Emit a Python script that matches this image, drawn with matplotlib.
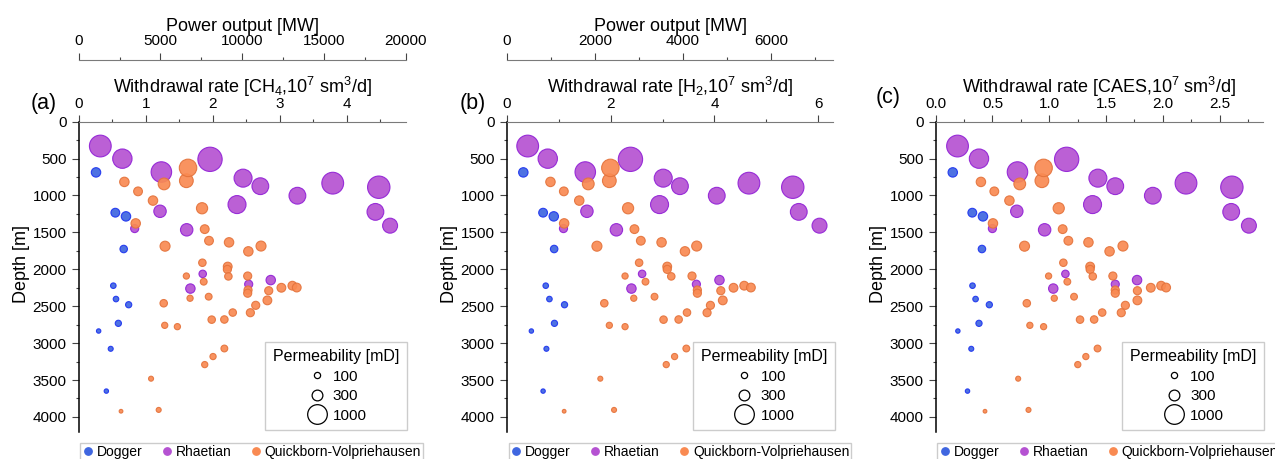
import matplotlib.pyplot as plt
from matplotlib.ticker import MultipleLocator
from matplotlib.lines import Line2D

plt.rcParams['font.family'] = 'Liberation Sans'
plt.rcParams['mathtext.default'] = 'regular'

# --- Dogger ---
dogger_depth = [687, 1233, 1283, 1725, 2222, 2403, 2480, 2732, 2836, 3077, 3650]
dogger_perm = [230, 200, 230, 145, 80, 80, 100, 100, 50, 65, 50]
dogger_ch4 = [0.259, 0.547, 0.706, 0.672, 0.517, 0.557, 0.746, 0.592, 0.298, 0.478, 0.413]
dogger_h2 = [0.316, 0.697, 0.903, 0.910, 0.748, 0.819, 1.110, 0.916, 0.471, 0.761, 0.697]
dogger_caes = [0.150, 0.322, 0.416, 0.407, 0.324, 0.351, 0.472, 0.381, 0.195, 0.313, 0.280]

# --- Rhaetian ---
rhaet_depth = [330, 501, 682, 510, 765, 874, 1123, 1003, 833, 888, 1222, 1409,
               1214, 1448, 1465, 2062, 2261, 2202, 2146]
rhaet_perm = [1230, 970, 1090, 1530, 840, 730, 840, 730, 1230, 1300, 730, 580,
              400, 170, 400, 145, 230, 170, 230]
rhaet_ch4 = [0.323, 0.652, 1.234, 1.960, 2.453, 2.711, 2.363, 3.264, 3.791, 4.478, 4.428, 4.647,
             1.214, 0.836, 1.612, 1.851, 1.667, 2.537, 2.866]
rhaet_h2 = [0.400, 0.787, 1.510, 2.381, 3.013, 3.335, 2.942, 4.045, 4.665, 5.510, 5.626, 6.026,
            1.542, 1.090, 2.110, 2.606, 2.400, 3.652, 4.097]
rhaet_caes = [0.192, 0.381, 0.720, 1.153, 1.428, 1.581, 1.381, 1.912, 2.204, 2.608, 2.602, 2.758,
              0.714, 0.499, 0.959, 1.142, 1.035, 1.581, 1.773]

# --- Quickborn-Volpriehausen ---
qv_depth = [816, 944, 1069, 843, 1378, 800, 626, 1173, 1456, 1613, 1687, 1635,
            1757, 1685, 1911, 1963, 2001, 2091, 2096, 2168, 2091, 2281, 2324, 2290,
            2250, 2222, 2247, 2392, 2371, 2421, 2460, 2488, 2586, 2588, 2682, 2680,
            2759, 2777, 3073, 3182, 3291, 3482, 3905, 3923]
qv_perm = [230, 200, 230, 360, 230, 490, 790, 325, 200, 200, 260, 230,
           230, 260, 145, 200, 170, 100, 145, 120, 170, 170, 170, 170,
           200, 200, 200, 100, 120, 200, 145, 170, 145, 170, 145, 145,
           100, 100, 120, 100, 100, 65, 65, 36]
qv_ch4 = [0.682, 0.886, 1.109, 1.274, 0.851, 1.607, 1.632, 1.841, 1.881, 1.945, 1.289, 2.244,
          2.532, 2.721, 1.846, 2.224, 2.219, 1.607, 2.234, 1.866, 2.522, 2.527, 2.522, 2.836,
          3.025, 3.189, 3.254, 1.662, 1.940, 2.816, 1.269, 2.642, 2.299, 2.562, 1.985, 2.174,
          1.284, 1.473, 2.174, 2.005, 1.881, 1.080, 1.194, 0.632]
qv_h2 = [0.839, 1.097, 1.394, 1.568, 1.103, 1.974, 1.994, 2.335, 2.458, 2.581, 1.735, 2.981,
         3.432, 3.658, 2.548, 3.090, 3.090, 2.277, 3.168, 2.671, 3.568, 3.671, 3.671, 4.123,
         4.368, 4.574, 4.703, 2.445, 2.845, 4.161, 1.877, 3.923, 3.471, 3.858, 3.019, 3.310,
         1.974, 2.277, 3.458, 3.232, 3.071, 1.800, 2.065, 1.103]
qv_caes = [0.398, 0.516, 0.649, 0.740, 0.504, 0.935, 0.950, 1.083, 1.118, 1.168, 0.782, 1.345,
           1.531, 1.649, 1.124, 1.360, 1.360, 0.994, 1.383, 1.159, 1.560, 1.581, 1.581, 1.776,
           1.894, 1.985, 2.029, 1.044, 1.218, 1.776, 0.802, 1.670, 1.466, 1.634, 1.271, 1.395,
           0.829, 0.950, 1.425, 1.322, 1.251, 0.726, 0.817, 0.434]

formations = ["Dogger", "Rhaetian", "Quickborn-Volpriehausen"]
face_colors = ["#3f66e0", "#b552d2", "#f98a52"]
edge_colors = ["#1e34f0", "#9222d6", "#e4733c"]
legend_perm = [100, 300, 1000]

# marker area (pt^2) per mD of permeability
SIZE_PER_MD = 0.2

panels = [
    dict(letter="(a)", gas="CH$_4$", rates=[dogger_ch4, rhaet_ch4, qv_ch4],
         xmax=4.88, major=1, minor=0.5, fmt="{:.0f}",
         power_max=20000, power_major=5000, power_minor=2500,
         rect=[0.0617, 0.0595, 0.2565, 0.6754], letter_x=44, letter_y=103),
    dict(letter="(b)", gas="H$_2$", rates=[dogger_h2, rhaet_h2, qv_h2],
         xmax=6.29, major=2, minor=1, fmt="{:.0f}",
         power_max=7408, power_major=2000, power_minor=1000,
         rect=[0.3976, 0.0595, 0.2559, 0.6754], letter_x=473, letter_y=103),
    dict(letter="(c)", gas="CAES", rates=[dogger_caes, rhaet_caes, qv_caes],
         xmax=2.88, major=0.5, minor=0.25, fmt="{:.1f}",
         power_max=None,
         rect=[0.7339, 0.0595, 0.2565, 0.6754], letter_x=888, letter_y=98),
]

depths = [dogger_depth, rhaet_depth, qv_depth]
perms = [dogger_perm, rhaet_perm, qv_perm]

W, H = 1275, 459
fig = plt.figure(figsize=(W / 100, H / 100), dpi=100)

for p in panels:
    ax = fig.add_axes(p["rect"])
    for k in range(3):
        ax.scatter(p["rates"][k], depths[k], s=[SIZE_PER_MD * v for v in perms[k]],
                   c=face_colors[k], edgecolors=edge_colors[k], linewidths=0.8,
                   alpha=0.92, zorder=3 + k)

    ax.set_xlim(0, p["xmax"])
    ax.set_ylim(4200, 0)

    ax.spines["bottom"].set_visible(False)
    ax.spines["right"].set_visible(False)
    ax.spines["top"].set_color("#7a7a7a")
    ax.spines["left"].set_color("black")
    ax.spines["left"].set_linewidth(1.1)

    ax.xaxis.set_ticks_position("top")
    ax.xaxis.set_label_position("top")
    ax.xaxis.set_major_locator(MultipleLocator(p["major"]))
    ax.xaxis.set_minor_locator(MultipleLocator(p["minor"]))
    ax.xaxis.set_major_formatter(lambda v, pos, f=p["fmt"]: f.format(v))
    ax.yaxis.set_major_locator(MultipleLocator(500))
    ax.yaxis.set_minor_locator(MultipleLocator(250))
    ax.tick_params(which="major", length=4.8, width=0.8, color="#444444",
                   labelsize=11, pad=3)
    ax.tick_params(which="minor", length=2.4, width=0.8, color="#444444")
    ax.tick_params(axis="y", pad=4)

    ax.set_xlabel("Withdrawal rate [" + p["gas"] + ",10$^7$ sm$^3$/d]",
                  fontsize=13, labelpad=3)
    ax.set_ylabel("Depth [m]", fontsize=13)
    ax.yaxis.set_label_coords(-0.15, 0.54)

    if p["power_max"] is not None:
        k_mw = p["power_max"] / p["xmax"]
        sec = ax.secondary_xaxis(1 + (121.7 - 60) / 310,
                                 functions=(lambda x, k=k_mw: x * k,
                                            lambda y, k=k_mw: y / k))
        sec.spines["top"].set_color("#7a7a7a")
        sec.xaxis.set_major_locator(MultipleLocator(p["power_major"]))
        sec.xaxis.set_minor_locator(MultipleLocator(p["power_minor"]))
        sec.tick_params(which="major", length=4.8, width=0.8, color="#444444",
                        labelsize=11, pad=3.5)
        sec.tick_params(which="minor", length=2.4, width=0.8, color="#444444")
        sec.set_xlabel("Power output [MW]", fontsize=13, labelpad=2.5)

    fig.text(p["letter_x"] / W, 1 - p["letter_y"] / H, p["letter"],
             fontsize=15.5, ha="center", va="center")

    # formation legend under the axes
    fm_handles = [Line2D([], [], ls="none", marker="o", ms=5.3,
                         mfc=face_colors[k], mec=face_colors[k]) for k in range(3)]
    leg_fm = ax.legend(fm_handles, formations, loc="upper left",
                       bbox_to_anchor=(0.005, -0.037), borderaxespad=0, ncol=3,
                       fontsize=10, handlelength=0.8, handletextpad=0.25,
                       columnspacing=1.35, borderpad=0.12, fancybox=False,
                       framealpha=1, edgecolor="#cccccc")
    ax.add_artist(leg_fm)

    # permeability size legend
    perm_handles = [Line2D([], [], ls="none", marker="o",
                           ms=(SIZE_PER_MD * v) ** 0.5, mfc="none", mec="black", mew=0.9)
                    for v in legend_perm]
    leg_p = ax.legend(perm_handles, [str(v) for v in legend_perm],
                      title="Permeability [mD]", title_fontsize=11.5, fontsize=11,
                      loc="lower right", bbox_to_anchor=(1.004, 0.005), borderaxespad=0,
                      handlelength=1.5, handletextpad=0.3, labelspacing=0.35,
                      borderpad=0.5, fancybox=False, framealpha=1, edgecolor="#cccccc")
    leg_p.get_frame().set_linewidth(1.0)
    leg_fm.get_frame().set_linewidth(1.0)

fig.savefig("out.png", dpi=100)
